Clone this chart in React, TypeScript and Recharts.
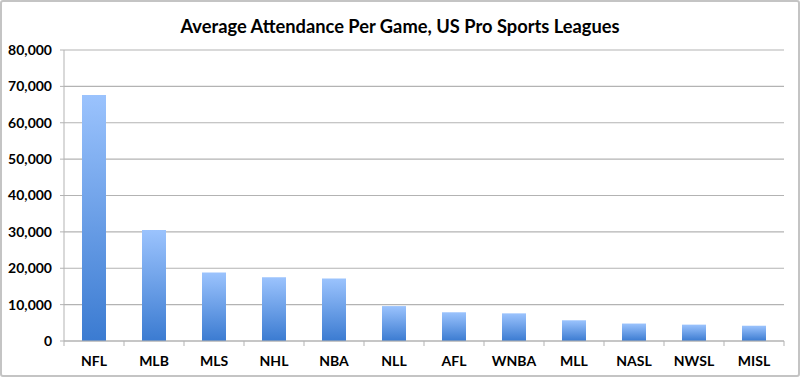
import React from 'react';
import { BarChart, Bar, XAxis, YAxis, CartesianGrid } from 'recharts';

const leagues = ['NFL', 'MLB', 'MLS', 'NHL', 'NBA', 'NLL', 'AFL', 'WNBA', 'MLL', 'NASL', 'NWSL', 'MISL'];
const attendance = [67600, 30500, 18800, 17500, 17200, 9600, 7900, 7600, 5700, 4800, 4500, 4200];
const yTicks = [0, 10000, 20000, 30000, 40000, 50000, 60000, 70000, 80000];

const data = leagues.map((league, i) => ({ league, attendance: attendance[i] }));

const FONT = 'Lato, "DejaVu Sans", sans-serif';
const GRID = '#b3b3b3';

// category ticks sit on the band edges, label in the middle
const XTick = ({ x, y, payload, index }: any) => {
  const half = 30;
  return (
    <g>
      <line x1={x - half} x2={x - half} y1={y - 8} y2={y - 3} stroke={GRID} />
      {index === leagues.length - 1 && (
        <line x1={x + half} x2={x + half} y1={y - 8} y2={y - 3} stroke={GRID} />
      )}
      <text x={x} y={y + 11} textAnchor="middle" dominantBaseline="central"
        fontFamily={FONT} fontWeight="bold" fontSize={14} fill="#000">
        {payload.value}
      </text>
    </g>
  );
};

export default function App() {
  return (
    <div style={{ position: 'absolute', left: 0, top: 0, width: 800, height: 377, background: '#fff' }}>
      <BarChart width={800} height={377} data={data}
        margin={{ top: 50, right: 16, bottom: 6, left: 0 }}>
        <defs>
          <linearGradient id="barFill" x1="0" y1="0" x2="0" y2="1">
            <stop offset="0%" stopColor="#9bc3fd" />
            <stop offset="100%" stopColor="#3b7bd1" />
          </linearGradient>
        </defs>
        <text x={400} y={26} textAnchor="middle" dominantBaseline="central"
          fontFamily={FONT} fontWeight="bold" fontSize={18.3} fill="#000">
          Average Attendance Per Game, US Pro Sports Leagues
        </text>
        <CartesianGrid vertical={false} stroke={GRID} strokeWidth={1.2} />
        <XAxis dataKey="league" height={30} stroke={GRID} tickLine={false} tick={<XTick />} interval={0} />
        <YAxis width={64} domain={[0, 80000]} ticks={yTicks} stroke={GRID}
          tickSize={4} tickMargin={8} interval={0}
          tickFormatter={(v: number) => v.toLocaleString('en-US')}
          tick={{ fontFamily: FONT, fontWeight: 'bold', fontSize: 14, fill: '#000' }} />
        <Bar dataKey="attendance" barSize={24} fill="url(#barFill)" isAnimationActive={false} />
      </BarChart>
      <div style={{ position: 'absolute', left: 0, top: 0, width: 800, height: 377,
        boxSizing: 'border-box', border: '2px solid #c4c4c4', borderRadius: 3, pointerEvents: 'none' }} />
    </div>
  );
}
